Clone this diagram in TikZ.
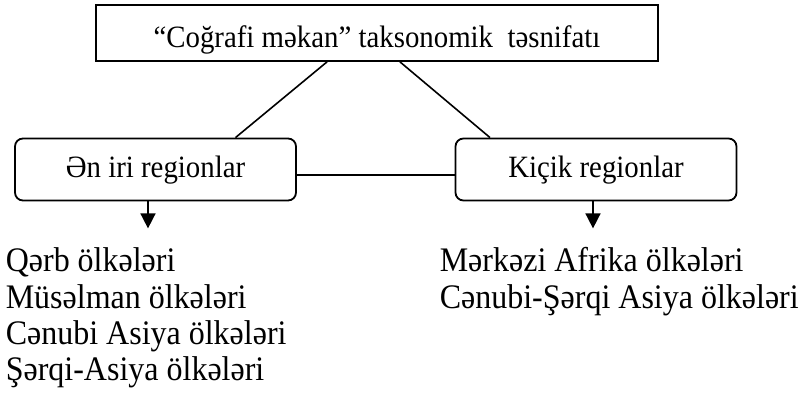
\documentclass[tikz,border=0pt]{standalone}
\usepackage{fontspec}
\setmainfont{Liberation Serif}[FakeStretch=0.93]
\usetikzlibrary{arrows.meta}

\tikzset{
	every box/.style={draw, line width=0.9pt, align=center, font=\fontsize{15.5}{18}\selectfont},
	title box/.style={every box, minimum width=281pt, minimum height=28pt, text height=15pt, text depth=0pt},
	region box/.style={every box, rounded corners=4pt, minimum width=140.5pt, minimum height=31pt, text height=11pt, text depth=2.5pt},
	country/.style={anchor=base west, inner sep=0pt, font=\fontsize{17.2}{20}\selectfont}
}

\begin{document}
\begin{tikzpicture}[x=0.5pt, y=-0.5pt, line width=0.8pt, >={Triangle[length=7.5pt, width=7.5pt]}]
		\useasboundingbox (0,0) rectangle (800,394);

		\node [title box] (title) at (377,33) {“Coğrafi məkan” taksonomik\ \ təsnifatı};
		\node [region box] (largest) at (155.5,169.5) {Ən iri regionlar};
		\node [region box] (small) at (596,169.5) {Kiçik regionlar};

		\draw ([xshift=-25pt]title.south) -- ([xshift=40pt]largest.north);
		\draw ([xshift=11.5pt]title.south) -- ([xshift=-53pt]small.north);
		\draw ([yshift=-2.75pt]largest.east) -- ([yshift=-2.75pt]small.west);

		\draw [->] ([xshift=-3.75pt]largest.south) -- ++(0,27);
		\draw [->] ([xshift=-1.5pt]small.south) -- ++(0,27);

		\foreach \c [count=\i] in {Qərb ölkələri, Müsəlman ölkələri, Cənubi Asiya ölkələri, Şərqi-Asiya ölkələri}
		\node [country] (largest-\i) at (5,235.7+36.3*\i) {\c};

		\foreach \c [count=\i] in {Mərkəzi Afrika ölkələri, Cənubi-Şərqi Asiya ölkələri}
		\node [country] (small-\i) at (439,235.7+36.3*\i) {\c};
	\end{tikzpicture}
\end{document}
